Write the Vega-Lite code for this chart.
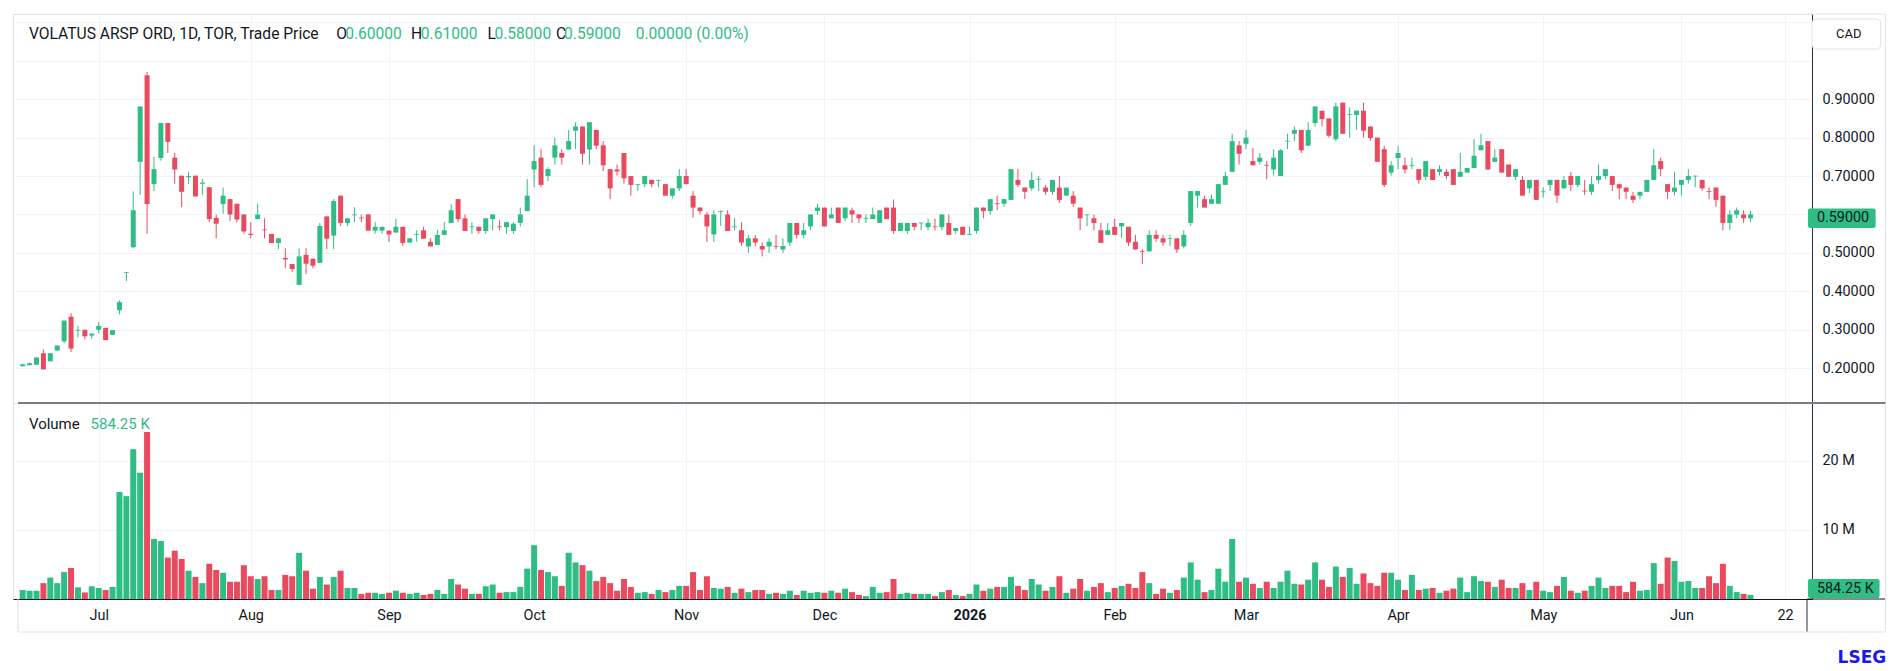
{
  "$schema": "https://vega.github.io/schema/vega-lite/v6.json",
  "background": "white",
  "padding": {"left": 12, "top": 13, "right": 0, "bottom": 0},
  "bounds": "flush",
  "spacing": 0,
  "config": {
    "font": "Roboto",
    "view": {"stroke": "#e0e3eb"},
    "axis": {"labelFont": "Roboto", "labelFontSize": 14.4, "labelColor": "#131722", "gridColor": "#f0f3fa", "ticks": false, "title": null, "labelFlush": false, "labelOverlap": false},
    "text": {"font": "Roboto", "fontSize": 15, "baseline": "middle", "align": "left", "color": "#131722"}
  },
  "datasets": {
    "bars": [
      {"i":1,"o":0.205,"h":0.212,"l":0.205,"c":0.21,"v":1.3},
      {"i":2,"o":0.208,"h":0.215,"l":0.207,"c":0.213,"v":1.2},
      {"i":3,"o":0.209,"h":0.228,"l":0.209,"c":0.228,"v":1.2},
      {"i":4,"o":0.239,"h":0.249,"l":0.197,"c":0.197,"v":2.3},
      {"i":5,"o":0.218,"h":0.239,"l":0.218,"c":0.239,"v":3.1},
      {"i":6,"o":0.246,"h":0.259,"l":0.246,"c":0.259,"v":2.3},
      {"i":7,"o":0.27,"h":0.324,"l":0.265,"c":0.324,"v":3.9},
      {"i":8,"o":0.334,"h":0.343,"l":0.242,"c":0.251,"v":4.5},
      {"i":9,"o":0.298,"h":0.31,"l":0.28,"c":0.3,"v":1.7},
      {"i":10,"o":0.3,"h":0.3,"l":0.275,"c":0.283,"v":0.95},
      {"i":11,"o":0.285,"h":0.29,"l":0.277,"c":0.29,"v":1.85},
      {"i":12,"o":0.3,"h":0.32,"l":0.291,"c":0.31,"v":1.6},
      {"i":13,"o":0.305,"h":0.305,"l":0.273,"c":0.273,"v":1.3},
      {"i":14,"o":0.287,"h":0.299,"l":0.287,"c":0.299,"v":1.75},
      {"i":15,"o":0.351,"h":0.377,"l":0.34,"c":0.372,"v":15.5},
      {"i":16,"o":0.448,"h":0.45,"l":0.427,"c":0.45,"v":14.9},
      {"i":17,"o":0.515,"h":0.66,"l":0.512,"c":0.611,"v":21.7},
      {"i":18,"o":0.737,"h":0.881,"l":0.651,"c":0.881,"v":18.3},
      {"i":19,"o":0.962,"h":0.971,"l":0.55,"c":0.627,"v":24.2},
      {"i":20,"o":0.679,"h":0.75,"l":0.661,"c":0.718,"v":8.7},
      {"i":21,"o":0.747,"h":0.838,"l":0.74,"c":0.838,"v":8.4},
      {"i":22,"o":0.838,"h":0.838,"l":0.76,"c":0.789,"v":6.0},
      {"i":23,"o":0.748,"h":0.76,"l":0.68,"c":0.717,"v":7.0},
      {"i":24,"o":0.701,"h":0.701,"l":0.619,"c":0.659,"v":5.8},
      {"i":25,"o":0.697,"h":0.711,"l":0.679,"c":0.7,"v":4.1},
      {"i":26,"o":0.701,"h":0.701,"l":0.647,"c":0.647,"v":3.2},
      {"i":27,"o":0.68,"h":0.692,"l":0.651,"c":0.683,"v":2.3},
      {"i":28,"o":0.671,"h":0.671,"l":0.58,"c":0.588,"v":5.1},
      {"i":29,"o":0.591,"h":0.6,"l":0.538,"c":0.576,"v":4.2},
      {"i":30,"o":0.627,"h":0.67,"l":0.602,"c":0.649,"v":3.8},
      {"i":31,"o":0.64,"h":0.64,"l":0.583,"c":0.6,"v":2.5},
      {"i":32,"o":0.628,"h":0.628,"l":0.58,"c":0.587,"v":2.5},
      {"i":33,"o":0.6,"h":0.6,"l":0.55,"c":0.556,"v":4.9},
      {"i":34,"o":0.55,"h":0.58,"l":0.538,"c":0.547,"v":3.3},
      {"i":35,"o":0.588,"h":0.628,"l":0.588,"c":0.6,"v":2.9},
      {"i":36,"o":0.561,"h":0.59,"l":0.538,"c":0.559,"v":3.3},
      {"i":37,"o":0.549,"h":0.549,"l":0.526,"c":0.526,"v":1.3},
      {"i":38,"o":0.526,"h":0.538,"l":0.51,"c":0.538,"v":1.3},
      {"i":39,"o":0.487,"h":0.512,"l":0.46,"c":0.483,"v":3.5},
      {"i":40,"o":0.471,"h":0.471,"l":0.45,"c":0.458,"v":3.3},
      {"i":41,"o":0.417,"h":0.512,"l":0.417,"c":0.491,"v":6.7},
      {"i":42,"o":0.495,"h":0.512,"l":0.445,"c":0.472,"v":4.1},
      {"i":43,"o":0.485,"h":0.485,"l":0.46,"c":0.467,"v":1.5},
      {"i":44,"o":0.474,"h":0.578,"l":0.474,"c":0.57,"v":3.2},
      {"i":45,"o":0.595,"h":0.595,"l":0.51,"c":0.537,"v":2.1},
      {"i":46,"o":0.545,"h":0.64,"l":0.51,"c":0.635,"v":3.2},
      {"i":47,"o":0.649,"h":0.649,"l":0.57,"c":0.578,"v":4.1},
      {"i":48,"o":0.578,"h":0.59,"l":0.57,"c":0.59,"v":1.6},
      {"i":49,"o":0.598,"h":0.619,"l":0.58,"c":0.6,"v":1.6},
      {"i":50,"o":0.592,"h":0.6,"l":0.58,"c":0.59,"v":0.74},
      {"i":51,"o":0.6,"h":0.6,"l":0.558,"c":0.558,"v":0.9},
      {"i":52,"o":0.558,"h":0.58,"l":0.55,"c":0.568,"v":0.9},
      {"i":53,"o":0.558,"h":0.568,"l":0.55,"c":0.568,"v":0.74},
      {"i":54,"o":0.558,"h":0.558,"l":0.529,"c":0.548,"v":0.9},
      {"i":55,"o":0.553,"h":0.589,"l":0.553,"c":0.568,"v":1.2},
      {"i":56,"o":0.568,"h":0.568,"l":0.518,"c":0.526,"v":0.9},
      {"i":57,"o":0.527,"h":0.538,"l":0.527,"c":0.538,"v":0.74},
      {"i":58,"o":0.547,"h":0.559,"l":0.529,"c":0.549,"v":0.9},
      {"i":59,"o":0.559,"h":0.568,"l":0.537,"c":0.537,"v":0.58},
      {"i":60,"o":0.529,"h":0.538,"l":0.517,"c":0.517,"v":0.74},
      {"i":61,"o":0.521,"h":0.56,"l":0.521,"c":0.547,"v":1.3},
      {"i":62,"o":0.547,"h":0.58,"l":0.547,"c":0.559,"v":0.74},
      {"i":63,"o":0.578,"h":0.628,"l":0.578,"c":0.611,"v":2.9},
      {"i":64,"o":0.64,"h":0.64,"l":0.58,"c":0.588,"v":2.1},
      {"i":65,"o":0.59,"h":0.6,"l":0.557,"c":0.557,"v":1.5},
      {"i":66,"o":0.567,"h":0.58,"l":0.55,"c":0.569,"v":0.74},
      {"i":67,"o":0.568,"h":0.568,"l":0.55,"c":0.557,"v":0.74},
      {"i":68,"o":0.557,"h":0.59,"l":0.55,"c":0.59,"v":1.85},
      {"i":69,"o":0.588,"h":0.6,"l":0.559,"c":0.6,"v":2.1},
      {"i":70,"o":0.569,"h":0.585,"l":0.559,"c":0.567,"v":0.9},
      {"i":71,"o":0.567,"h":0.58,"l":0.55,"c":0.58,"v":1.0},
      {"i":72,"o":0.557,"h":0.58,"l":0.55,"c":0.576,"v":1.0},
      {"i":73,"o":0.578,"h":0.618,"l":0.569,"c":0.6,"v":1.75},
      {"i":74,"o":0.609,"h":0.692,"l":0.609,"c":0.649,"v":4.4},
      {"i":75,"o":0.717,"h":0.78,"l":0.671,"c":0.739,"v":7.8},
      {"i":76,"o":0.748,"h":0.77,"l":0.671,"c":0.677,"v":4.2},
      {"i":77,"o":0.7,"h":0.723,"l":0.687,"c":0.718,"v":3.9},
      {"i":78,"o":0.748,"h":0.8,"l":0.73,"c":0.78,"v":3.3},
      {"i":79,"o":0.76,"h":0.77,"l":0.73,"c":0.748,"v":1.9},
      {"i":80,"o":0.769,"h":0.82,"l":0.769,"c":0.791,"v":6.7},
      {"i":81,"o":0.818,"h":0.84,"l":0.77,"c":0.829,"v":5.3},
      {"i":82,"o":0.829,"h":0.829,"l":0.73,"c":0.758,"v":4.9},
      {"i":83,"o":0.769,"h":0.84,"l":0.73,"c":0.84,"v":4.1},
      {"i":84,"o":0.82,"h":0.82,"l":0.77,"c":0.779,"v":2.6},
      {"i":85,"o":0.78,"h":0.791,"l":0.713,"c":0.728,"v":3.2},
      {"i":86,"o":0.718,"h":0.718,"l":0.64,"c":0.668,"v":2.3},
      {"i":87,"o":0.717,"h":0.73,"l":0.701,"c":0.712,"v":1.2},
      {"i":88,"o":0.76,"h":0.76,"l":0.68,"c":0.694,"v":2.9},
      {"i":89,"o":0.7,"h":0.7,"l":0.649,"c":0.677,"v":1.75},
      {"i":90,"o":0.677,"h":0.679,"l":0.661,"c":0.679,"v":0.9},
      {"i":91,"o":0.679,"h":0.7,"l":0.671,"c":0.7,"v":1.0},
      {"i":92,"o":0.69,"h":0.69,"l":0.671,"c":0.679,"v":0.74},
      {"i":93,"o":0.688,"h":0.69,"l":0.671,"c":0.69,"v":1.3},
      {"i":94,"o":0.679,"h":0.68,"l":0.649,"c":0.649,"v":1.0},
      {"i":95,"o":0.649,"h":0.668,"l":0.641,"c":0.668,"v":1.3},
      {"i":96,"o":0.668,"h":0.718,"l":0.661,"c":0.7,"v":1.9},
      {"i":97,"o":0.7,"h":0.718,"l":0.679,"c":0.679,"v":1.9},
      {"i":98,"o":0.649,"h":0.661,"l":0.592,"c":0.618,"v":3.9},
      {"i":99,"o":0.618,"h":0.618,"l":0.6,"c":0.609,"v":1.3},
      {"i":100,"o":0.6,"h":0.606,"l":0.529,"c":0.569,"v":3.3},
      {"i":101,"o":0.548,"h":0.611,"l":0.529,"c":0.6,"v":1.6},
      {"i":102,"o":0.607,"h":0.611,"l":0.57,"c":0.609,"v":1.5},
      {"i":103,"o":0.6,"h":0.611,"l":0.557,"c":0.557,"v":1.75},
      {"i":104,"o":0.567,"h":0.59,"l":0.559,"c":0.569,"v":0.9},
      {"i":105,"o":0.559,"h":0.58,"l":0.518,"c":0.527,"v":1.5},
      {"i":106,"o":0.517,"h":0.547,"l":0.5,"c":0.538,"v":1.0},
      {"i":107,"o":0.538,"h":0.547,"l":0.517,"c":0.527,"v":1.3},
      {"i":108,"o":0.518,"h":0.527,"l":0.491,"c":0.509,"v":1.3},
      {"i":109,"o":0.517,"h":0.538,"l":0.5,"c":0.529,"v":0.74},
      {"i":110,"o":0.518,"h":0.547,"l":0.51,"c":0.516,"v":0.9},
      {"i":111,"o":0.509,"h":0.538,"l":0.5,"c":0.518,"v":0.74},
      {"i":112,"o":0.527,"h":0.578,"l":0.518,"c":0.578,"v":1.2},
      {"i":113,"o":0.578,"h":0.578,"l":0.538,"c":0.547,"v":0.58},
      {"i":114,"o":0.547,"h":0.578,"l":0.538,"c":0.559,"v":1.2},
      {"i":115,"o":0.569,"h":0.6,"l":0.559,"c":0.6,"v":0.9},
      {"i":116,"o":0.609,"h":0.628,"l":0.6,"c":0.618,"v":1.0},
      {"i":117,"o":0.618,"h":0.618,"l":0.569,"c":0.569,"v":0.9},
      {"i":118,"o":0.59,"h":0.618,"l":0.59,"c":0.6,"v":1.2},
      {"i":119,"o":0.618,"h":0.618,"l":0.578,"c":0.578,"v":0.9},
      {"i":120,"o":0.59,"h":0.618,"l":0.583,"c":0.618,"v":1.5},
      {"i":121,"o":0.611,"h":0.618,"l":0.578,"c":0.6,"v":1.0},
      {"i":122,"o":0.6,"h":0.6,"l":0.578,"c":0.59,"v":0.58},
      {"i":123,"o":0.589,"h":0.6,"l":0.578,"c":0.591,"v":0.42},
      {"i":124,"o":0.588,"h":0.618,"l":0.588,"c":0.6,"v":1.75},
      {"i":125,"o":0.578,"h":0.611,"l":0.578,"c":0.611,"v":0.9},
      {"i":126,"o":0.618,"h":0.618,"l":0.588,"c":0.588,"v":1.0},
      {"i":127,"o":0.618,"h":0.639,"l":0.55,"c":0.557,"v":2.9},
      {"i":128,"o":0.557,"h":0.578,"l":0.557,"c":0.578,"v":0.74},
      {"i":129,"o":0.557,"h":0.578,"l":0.55,"c":0.578,"v":0.9},
      {"i":130,"o":0.578,"h":0.578,"l":0.559,"c":0.568,"v":0.74},
      {"i":131,"o":0.577,"h":0.579,"l":0.559,"c":0.579,"v":0.74},
      {"i":132,"o":0.567,"h":0.589,"l":0.559,"c":0.578,"v":0.74},
      {"i":133,"o":0.569,"h":0.589,"l":0.559,"c":0.567,"v":0.42},
      {"i":134,"o":0.567,"h":0.6,"l":0.559,"c":0.6,"v":1.0},
      {"i":135,"o":0.578,"h":0.6,"l":0.547,"c":0.547,"v":1.3},
      {"i":136,"o":0.557,"h":0.565,"l":0.55,"c":0.565,"v":0.58},
      {"i":137,"o":0.568,"h":0.568,"l":0.547,"c":0.547,"v":0.42},
      {"i":138,"o":0.547,"h":0.569,"l":0.547,"c":0.549,"v":0.74},
      {"i":139,"o":0.557,"h":0.618,"l":0.55,"c":0.618,"v":2.1},
      {"i":140,"o":0.618,"h":0.618,"l":0.59,"c":0.609,"v":1.2},
      {"i":141,"o":0.609,"h":0.64,"l":0.6,"c":0.64,"v":1.5},
      {"i":142,"o":0.629,"h":0.649,"l":0.611,"c":0.627,"v":1.75},
      {"i":143,"o":0.628,"h":0.64,"l":0.62,"c":0.64,"v":1.75},
      {"i":144,"o":0.638,"h":0.718,"l":0.638,"c":0.718,"v":3.2},
      {"i":145,"o":0.69,"h":0.718,"l":0.671,"c":0.677,"v":1.9},
      {"i":146,"o":0.67,"h":0.67,"l":0.64,"c":0.659,"v":1.3},
      {"i":147,"o":0.668,"h":0.711,"l":0.661,"c":0.69,"v":2.9},
      {"i":148,"o":0.691,"h":0.7,"l":0.661,"c":0.693,"v":2.1},
      {"i":149,"o":0.67,"h":0.677,"l":0.651,"c":0.659,"v":1.2},
      {"i":150,"o":0.659,"h":0.69,"l":0.651,"c":0.69,"v":1.75},
      {"i":151,"o":0.67,"h":0.7,"l":0.63,"c":0.638,"v":3.3},
      {"i":152,"o":0.649,"h":0.67,"l":0.649,"c":0.67,"v":0.9},
      {"i":153,"o":0.649,"h":0.661,"l":0.62,"c":0.628,"v":1.5},
      {"i":154,"o":0.618,"h":0.618,"l":0.559,"c":0.59,"v":2.9},
      {"i":155,"o":0.598,"h":0.6,"l":0.57,"c":0.6,"v":1.2},
      {"i":156,"o":0.59,"h":0.6,"l":0.559,"c":0.578,"v":1.75},
      {"i":157,"o":0.559,"h":0.578,"l":0.526,"c":0.526,"v":2.3},
      {"i":158,"o":0.547,"h":0.578,"l":0.547,"c":0.559,"v":1.0},
      {"i":159,"o":0.568,"h":0.589,"l":0.547,"c":0.547,"v":1.6},
      {"i":160,"o":0.569,"h":0.578,"l":0.538,"c":0.578,"v":1.9},
      {"i":161,"o":0.568,"h":0.568,"l":0.518,"c":0.527,"v":2.2},
      {"i":162,"o":0.529,"h":0.547,"l":0.509,"c":0.509,"v":1.6},
      {"i":163,"o":0.505,"h":0.51,"l":0.471,"c":0.503,"v":3.9},
      {"i":164,"o":0.504,"h":0.559,"l":0.504,"c":0.547,"v":2.3},
      {"i":165,"o":0.547,"h":0.559,"l":0.529,"c":0.537,"v":0.74},
      {"i":166,"o":0.538,"h":0.547,"l":0.518,"c":0.527,"v":1.5},
      {"i":167,"o":0.536,"h":0.547,"l":0.518,"c":0.538,"v":0.9},
      {"i":168,"o":0.538,"h":0.538,"l":0.5,"c":0.509,"v":1.3},
      {"i":169,"o":0.517,"h":0.559,"l":0.512,"c":0.547,"v":3.1},
      {"i":170,"o":0.578,"h":0.661,"l":0.57,"c":0.661,"v":5.3},
      {"i":171,"o":0.649,"h":0.661,"l":0.618,"c":0.661,"v":2.8},
      {"i":172,"o":0.64,"h":0.649,"l":0.618,"c":0.618,"v":1.0},
      {"i":173,"o":0.628,"h":0.652,"l":0.628,"c":0.64,"v":1.3},
      {"i":174,"o":0.628,"h":0.679,"l":0.628,"c":0.679,"v":4.4},
      {"i":175,"o":0.677,"h":0.711,"l":0.677,"c":0.7,"v":2.5},
      {"i":176,"o":0.711,"h":0.81,"l":0.711,"c":0.791,"v":8.7},
      {"i":177,"o":0.78,"h":0.791,"l":0.73,"c":0.758,"v":2.5},
      {"i":178,"o":0.784,"h":0.82,"l":0.77,"c":0.8,"v":3.1},
      {"i":179,"o":0.739,"h":0.773,"l":0.728,"c":0.728,"v":2.2},
      {"i":180,"o":0.737,"h":0.76,"l":0.73,"c":0.748,"v":1.6},
      {"i":181,"o":0.729,"h":0.739,"l":0.692,"c":0.727,"v":2.5},
      {"i":182,"o":0.717,"h":0.77,"l":0.701,"c":0.748,"v":1.6},
      {"i":183,"o":0.7,"h":0.77,"l":0.7,"c":0.767,"v":2.5},
      {"i":184,"o":0.79,"h":0.81,"l":0.77,"c":0.792,"v":4.1},
      {"i":185,"o":0.81,"h":0.829,"l":0.791,"c":0.82,"v":2.2},
      {"i":186,"o":0.82,"h":0.82,"l":0.76,"c":0.767,"v":2.1},
      {"i":187,"o":0.779,"h":0.84,"l":0.779,"c":0.82,"v":2.8},
      {"i":188,"o":0.838,"h":0.881,"l":0.829,"c":0.881,"v":5.3},
      {"i":189,"o":0.87,"h":0.87,"l":0.829,"c":0.848,"v":2.8},
      {"i":190,"o":0.85,"h":0.85,"l":0.8,"c":0.805,"v":1.75},
      {"i":191,"o":0.796,"h":0.891,"l":0.791,"c":0.881,"v":4.7},
      {"i":192,"o":0.891,"h":0.891,"l":0.81,"c":0.81,"v":3.2},
      {"i":193,"o":0.859,"h":0.879,"l":0.8,"c":0.861,"v":4.5},
      {"i":194,"o":0.859,"h":0.87,"l":0.82,"c":0.87,"v":2.2},
      {"i":195,"o":0.87,"h":0.891,"l":0.8,"c":0.818,"v":3.7},
      {"i":196,"o":0.829,"h":0.829,"l":0.791,"c":0.799,"v":2.3},
      {"i":197,"o":0.8,"h":0.8,"l":0.737,"c":0.737,"v":1.9},
      {"i":198,"o":0.77,"h":0.779,"l":0.671,"c":0.677,"v":3.8},
      {"i":199,"o":0.709,"h":0.739,"l":0.701,"c":0.728,"v":3.8},
      {"i":200,"o":0.747,"h":0.779,"l":0.718,"c":0.76,"v":2.8},
      {"i":201,"o":0.728,"h":0.748,"l":0.706,"c":0.717,"v":1.3},
      {"i":202,"o":0.727,"h":0.748,"l":0.718,"c":0.729,"v":3.5},
      {"i":203,"o":0.718,"h":0.718,"l":0.68,"c":0.69,"v":1.3},
      {"i":204,"o":0.698,"h":0.739,"l":0.69,"c":0.739,"v":1.5},
      {"i":205,"o":0.718,"h":0.718,"l":0.69,"c":0.69,"v":1.6},
      {"i":206,"o":0.711,"h":0.728,"l":0.701,"c":0.718,"v":0.9},
      {"i":207,"o":0.711,"h":0.718,"l":0.692,"c":0.7,"v":1.2},
      {"i":208,"o":0.718,"h":0.718,"l":0.677,"c":0.677,"v":1.5},
      {"i":209,"o":0.698,"h":0.76,"l":0.698,"c":0.711,"v":3.1},
      {"i":210,"o":0.709,"h":0.721,"l":0.709,"c":0.721,"v":1.0},
      {"i":211,"o":0.721,"h":0.796,"l":0.721,"c":0.753,"v":3.3},
      {"i":212,"o":0.767,"h":0.81,"l":0.767,"c":0.78,"v":2.6},
      {"i":213,"o":0.791,"h":0.791,"l":0.717,"c":0.717,"v":2.5},
      {"i":214,"o":0.737,"h":0.77,"l":0.737,"c":0.748,"v":1.75},
      {"i":215,"o":0.77,"h":0.77,"l":0.709,"c":0.709,"v":2.8},
      {"i":216,"o":0.73,"h":0.73,"l":0.698,"c":0.698,"v":1.6},
      {"i":217,"o":0.698,"h":0.718,"l":0.69,"c":0.718,"v":1.6},
      {"i":218,"o":0.69,"h":0.7,"l":0.649,"c":0.649,"v":2.3},
      {"i":219,"o":0.668,"h":0.69,"l":0.656,"c":0.69,"v":1.3},
      {"i":220,"o":0.69,"h":0.69,"l":0.638,"c":0.638,"v":2.5},
      {"i":221,"o":0.658,"h":0.671,"l":0.644,"c":0.66,"v":1.2},
      {"i":222,"o":0.677,"h":0.69,"l":0.661,"c":0.69,"v":1.0},
      {"i":223,"o":0.69,"h":0.69,"l":0.63,"c":0.649,"v":1.9},
      {"i":224,"o":0.668,"h":0.7,"l":0.668,"c":0.69,"v":3.2},
      {"i":225,"o":0.7,"h":0.711,"l":0.661,"c":0.677,"v":1.2},
      {"i":226,"o":0.677,"h":0.7,"l":0.671,"c":0.7,"v":0.9},
      {"i":227,"o":0.662,"h":0.69,"l":0.651,"c":0.66,"v":1.2},
      {"i":228,"o":0.659,"h":0.7,"l":0.651,"c":0.679,"v":1.9},
      {"i":229,"o":0.69,"h":0.73,"l":0.68,"c":0.7,"v":3.1},
      {"i":230,"o":0.7,"h":0.718,"l":0.692,"c":0.718,"v":1.6},
      {"i":231,"o":0.7,"h":0.7,"l":0.661,"c":0.677,"v":1.9},
      {"i":232,"o":0.679,"h":0.679,"l":0.64,"c":0.668,"v":1.9},
      {"i":233,"o":0.67,"h":0.67,"l":0.64,"c":0.659,"v":1.0},
      {"i":234,"o":0.649,"h":0.659,"l":0.63,"c":0.638,"v":2.5},
      {"i":235,"o":0.649,"h":0.659,"l":0.64,"c":0.659,"v":1.2},
      {"i":236,"o":0.659,"h":0.69,"l":0.659,"c":0.69,"v":1.3},
      {"i":237,"o":0.69,"h":0.77,"l":0.69,"c":0.728,"v":5.2},
      {"i":238,"o":0.739,"h":0.748,"l":0.7,"c":0.718,"v":2.2},
      {"i":239,"o":0.679,"h":0.679,"l":0.64,"c":0.659,"v":6.0},
      {"i":240,"o":0.659,"h":0.711,"l":0.649,"c":0.67,"v":5.5},
      {"i":241,"o":0.677,"h":0.69,"l":0.649,"c":0.69,"v":2.5},
      {"i":242,"o":0.69,"h":0.718,"l":0.68,"c":0.7,"v":2.6},
      {"i":243,"o":0.699,"h":0.701,"l":0.671,"c":0.701,"v":1.6},
      {"i":244,"o":0.69,"h":0.69,"l":0.661,"c":0.668,"v":1.6},
      {"i":245,"o":0.661,"h":0.67,"l":0.64,"c":0.659,"v":3.3},
      {"i":246,"o":0.67,"h":0.67,"l":0.62,"c":0.638,"v":2.3},
      {"i":247,"o":0.649,"h":0.649,"l":0.559,"c":0.578,"v":5.1},
      {"i":248,"o":0.578,"h":0.611,"l":0.559,"c":0.6,"v":1.9},
      {"i":249,"o":0.6,"h":0.618,"l":0.59,"c":0.611,"v":1.0},
      {"i":250,"o":0.6,"h":0.611,"l":0.578,"c":0.59,"v":0.74},
      {"i":251,"o":0.59,"h":0.61,"l":0.58,"c":0.6,"v":0.58425}
    ]
  },
  "vconcat": [
    {
      "width": 1799,
      "height": 389,
      "layer": [
        {
          "data": {"name": "bars"},
          "mark": {"type": "rule", "strokeWidth": 1},
          "encoding": {
            "x": {"field": "i", "type": "quantitative", "scale": {"domain": [0.324, 259.17], "nice": false, "zero": false},
              "axis": {"values": [12, 34, 54, 75, 97, 117, 138, 159, 178, 200, 221, 241, 256], "labels": false, "domain": false, "grid": true}},
            "y": {"field": "l", "type": "quantitative", "scale": {"domain": [0.1095, 1.1217], "nice": false, "zero": false},
              "axis": {"orient": "right", "values": [0.2, 0.3, 0.4, 0.5, 0.6, 0.7, 0.8, 0.9, 1.0, 1.1],
                "labelExpr": "datum.value > 0.95 || abs(datum.value - 0.6) < 0.01 ? '' : format(datum.value, '.5f')",
                "domain": true, "domainColor": "#2a2e39", "grid": true, "labelPadding": 10}},
            "y2": {"field": "h"},
            "color": {"condition": {"test": "datum.c >= datum.o", "value": "#2ebd85"}, "value": "#e84b5f"}
          }
        },
        {
          "data": {"name": "bars"},
          "mark": {"type": "bar", "size": 5},
          "encoding": {
            "x": {"field": "i", "type": "quantitative"},
            "y": {"field": "o", "type": "quantitative"},
            "y2": {"field": "c"},
            "color": {"condition": {"test": "datum.c >= datum.o", "value": "#2ebd85"}, "value": "#e84b5f"}
          }
        },
        {
          "data": {"values": [{}]},
          "mark": {"type": "text", "text": "VOLATUS ARSP ORD, 1D, TOR, Trade Price", "fontSize": 15.6},
          "encoding": {"x": {"datum": 1.906}, "y": {"datum": 1.0697}}
        },
        {
          "data": {"values": [{}]},
          "mark": {"type": "text", "text": "O", "fontSize": 15.6},
          "encoding": {"x": {"datum": 46.37}, "y": {"datum": 1.0697}}
        },
        {
          "data": {"values": [{}]},
          "mark": {"type": "text", "text": "0.60000", "fontSize": 15.6, "color": "#2ebd85"},
          "encoding": {"x": {"datum": 47.66}, "y": {"datum": 1.0697}}
        },
        {
          "data": {"values": [{}]},
          "mark": {"type": "text", "text": "H", "fontSize": 15.6},
          "encoding": {"x": {"datum": 57.17}, "y": {"datum": 1.0697}}
        },
        {
          "data": {"values": [{}]},
          "mark": {"type": "text", "text": "0.61000", "fontSize": 15.6, "color": "#2ebd85"},
          "encoding": {"x": {"datum": 58.61}, "y": {"datum": 1.0697}}
        },
        {
          "data": {"values": [{}]},
          "mark": {"type": "text", "text": "L", "fontSize": 15.6},
          "encoding": {"x": {"datum": 68.25}, "y": {"datum": 1.0697}}
        },
        {
          "data": {"values": [{}]},
          "mark": {"type": "text", "text": "0.58000", "fontSize": 15.6, "color": "#2ebd85"},
          "encoding": {"x": {"datum": 69.26}, "y": {"datum": 1.0697}}
        },
        {
          "data": {"values": [{}]},
          "mark": {"type": "text", "text": "C", "fontSize": 15.6},
          "encoding": {"x": {"datum": 78.18}, "y": {"datum": 1.0697}}
        },
        {
          "data": {"values": [{}]},
          "mark": {"type": "text", "text": "0.59000", "fontSize": 15.6, "color": "#2ebd85"},
          "encoding": {"x": {"datum": 79.33}, "y": {"datum": 1.0697}}
        },
        {
          "data": {"values": [{}]},
          "mark": {"type": "text", "text": "0.00000 (0.00%)", "fontSize": 15.6, "color": "#2ebd85"},
          "encoding": {"x": {"datum": 89.69}, "y": {"datum": 1.0697}}
        },
        {
          "data": {"values": [{}]},
          "mark": {"type": "rect", "fill": "white", "stroke": "#e0e3eb", "strokeWidth": 1, "cornerRadius": 4},
          "encoding": {"x": {"datum": 259.89}, "x2": {"datum": 269.82}, "y": {"datum": 1.1087}, "y2": {"datum": 1.0306}}
        },
        {
          "data": {"values": [{}]},
          "mark": {"type": "text", "text": "CAD", "align": "center", "fontSize": 13},
          "encoding": {"x": {"datum": 265.2}, "y": {"datum": 1.0697}}
        },
        {
          "data": {"values": [{}]},
          "mark": {"type": "rect", "fill": "#2ebd85", "cornerRadius": 2},
          "encoding": {"x": {"datum": 259.32}, "x2": {"datum": 269.1}, "y": {"datum": 0.6155}, "y2": {"datum": 0.5648}}
        },
        {
          "data": {"values": [{}]},
          "mark": {"type": "text", "text": "0.59000", "fontSize": 14.4},
          "encoding": {"x": {"datum": 260.6}, "y": {"datum": 0.59}}
        },
        {
          "data": {"values": [{}]},
          "mark": {"type": "rule", "color": "#e0e3eb"},
          "encoding": {"x": {"datum": 270.54}, "y": {"datum": 0.1095}, "y2": {"datum": 1.1217}}
        },
        {
          "data": {"values": [{}]},
          "mark": {"type": "rule", "color": "#e0e3eb"},
          "encoding": {"x": {"datum": 259.17}, "x2": {"datum": 270.54}, "y": {"datum": 1.1217}}
        }
      ]
    },
    {
      "width": 1799,
      "height": 196,
      "layer": [
        {
          "data": {"name": "bars"},
          "mark": {"type": "bar", "size": 6},
          "encoding": {
            "x": {"field": "i", "type": "quantitative", "scale": {"domain": [0.324, 259.17], "nice": false, "zero": false},
              "axis": {"values": [12, 34, 54, 75, 97, 117, 138, 159, 178, 200, 221, 241, 256],
                "labelExpr": "['Jul','Aug','Sep','Oct','Nov','Dec','2026','Feb','Mar','Apr','May','Jun','22'][indexof([12,34,54,75,97,117,138,159,178,200,221,241,256], datum.value)]",
                "labelFontWeight": {"condition": {"test": "datum.value == 138", "value": "bold"}, "value": "normal"},
                "domain": true, "domainColor": "#131722", "domainWidth": 1, "grid": true, "labelPadding": 9}},
            "y": {"field": "v", "type": "quantitative", "scale": {"domain": [0, 28.4], "nice": false},
              "axis": {"orient": "right", "values": [10, 20], "labelExpr": "datum.value + ' M'", "domain": true, "domainColor": "#2a2e39", "grid": true, "labelPadding": 10}},
            "color": {"condition": {"test": "datum.c >= datum.o", "value": "#2ebd85"}, "value": "#e84b5f"}
          }
        },
        {
          "data": {"values": [{}]},
          "mark": {"type": "text", "text": "Volume", "fontSize": 15},
          "encoding": {"x": {"datum": 1.906}, "y": {"datum": 25.36}}
        },
        {
          "data": {"values": [{}]},
          "mark": {"type": "text", "text": "584.25 K", "fontSize": 15, "color": "#2ebd85"},
          "encoding": {"x": {"datum": 10.83}, "y": {"datum": 25.36}}
        },
        {
          "data": {"values": [{}]},
          "mark": {"type": "rect", "fill": "#2ebd85", "cornerRadius": 2},
          "encoding": {"x": {"datum": 259.32}, "x2": {"datum": 269.67}, "y": {"datum": 2.89}, "y2": {"datum": 0.145}}
        },
        {
          "data": {"values": [{}]},
          "mark": {"type": "text", "text": "584.25 K", "fontSize": 14.4},
          "encoding": {"x": {"datum": 260.6}, "y": {"datum": 1.52}}
        },
        {
          "data": {"values": [{}]},
          "mark": {"type": "rule", "color": "#7a7d85", "strokeWidth": 2},
          "encoding": {"x": {"datum": 0.324}, "x2": {"datum": 270.54}, "y": {"datum": 28.4}}
        },
        {
          "data": {"values": [{}]},
          "mark": {"type": "rule", "color": "#131722"},
          "encoding": {"x": {"datum": 259.17}, "x2": {"datum": 270.54}, "y": {"datum": 0}}
        },
        {
          "data": {"values": [{}]},
          "mark": {"type": "rule", "color": "#2a2e39"},
          "encoding": {"x": {"datum": 259.17}, "y": {"datum": 0}, "y2": {"datum": -4.78}}
        },
        {
          "data": {"values": [{}]},
          "mark": {"type": "rule", "color": "#e0e3eb"},
          "encoding": {"x": {"datum": 0.324}, "y": {"datum": 0}, "y2": {"datum": -4.78}}
        },
        {
          "data": {"values": [{}]},
          "mark": {"type": "rule", "color": "#e0e3eb"},
          "encoding": {"x": {"datum": 270.54}, "y": {"datum": 28.4}, "y2": {"datum": -4.78}}
        },
        {
          "data": {"values": [{}]},
          "mark": {"type": "rule", "color": "#e0e3eb"},
          "encoding": {"x": {"datum": 0.324}, "x2": {"datum": 270.54}, "y": {"datum": -4.78}}
        },
        {
          "data": {"values": [{}]},
          "mark": {"type": "text", "text": "LSEG", "font": "DejaVu Sans", "fontWeight": "bold", "fontSize": 17, "color": "#1a1ae6"},
          "encoding": {"x": {"datum": 263.6}, "y": {"datum": -8.55}}
        }
      ]
    }
  ]
}
